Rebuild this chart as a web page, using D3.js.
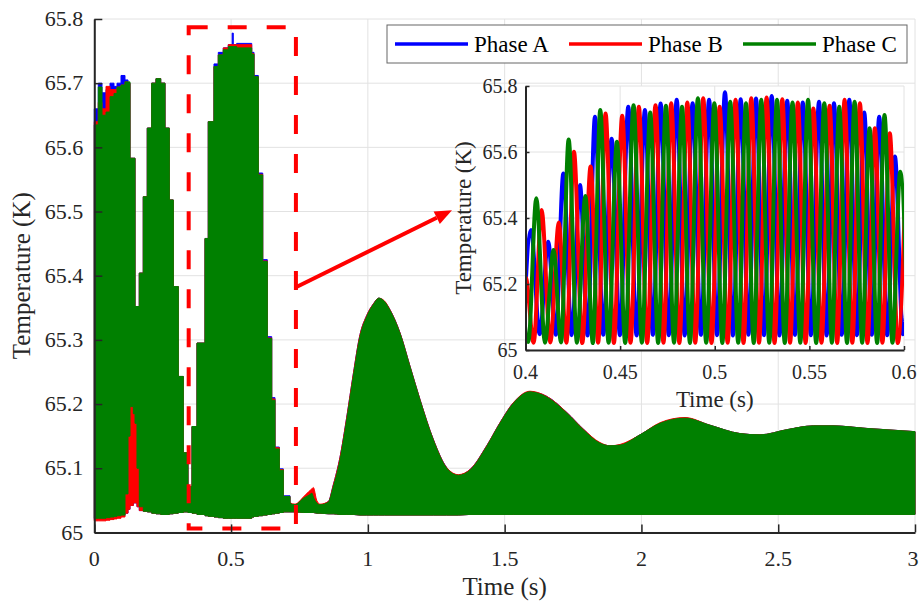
<!DOCTYPE html>
<html>
<head>
<meta charset="utf-8">
<script src="https://cdn.jsdelivr.net/npm/d3@7"></script>
<style>
  body { margin: 0; background: #fff; }
  svg { display: block; }
  text { font-family: "Liberation Serif", "Times New Roman", serif; }
</style>
</head>
<body>
<div id="chart"></div>
<script>
// ---------------- data ----------------
const phaseNames = ['Phase A', 'Phase B', 'Phase C'];
const phaseColors = ['#0000ff', '#ff0000', '#008000'];

const mainXTicks = [0, 0.5, 1, 1.5, 2, 2.5, 3];
const mainYTicks = [65, 65.1, 65.2, 65.3, 65.4, 65.5, 65.6, 65.7, 65.8];
const mainXLabels = ['0', '0.5', '1', '1.5', '2', '2.5', '3'];
const mainYLabels = ['65', '65.1', '65.2', '65.3', '65.4', '65.5', '65.6', '65.7', '65.8'];
const insetXTicks = [0.4, 0.45, 0.5, 0.55, 0.6];
const insetYTicks = [65, 65.2, 65.4, 65.6, 65.8];
const insetXLabels = ['0.4', '0.45', '0.5', '0.55', '0.6'];
const insetYLabels = ['65', '65.2', '65.4', '65.6', '65.8'];

// 0 - 0.72 s : envelope of the oscillation, held in blocks of two cycles
const earlyTime = [0.0000, 0.0146, 0.0281, 0.0428, 0.0574, 0.0720, 0.0830, 0.0976, 0.1122, 0.1232,
  0.1305, 0.1426, 0.1488, 0.1560, 0.1645, 0.1791, 0.1937, 0.2098, 0.2255, 0.2427,
  0.2584, 0.2742, 0.2888, 0.3071, 0.3253, 0.3425, 0.3571, 0.3754, 0.4047, 0.4167,
  0.4375, 0.4533, 0.4715, 0.4898, 0.5040, 0.5080, 0.5205, 0.5754, 0.5838, 0.5995,
  0.6156, 0.6324, 0.6485, 0.6605, 0.6763, 0.6909, 0.7154];
const earlyUpperA = [65.660, 65.700, 65.685, 65.690, 65.700, 65.695, 65.700, 65.712, 65.705, 65.700,
  65.583, 65.583, 65.352, 65.352, 65.404, 65.523, 65.630, 65.700, 65.707, 65.700,
  65.630, 65.518, 65.383, 65.243, 65.124, 65.071, 65.165, 65.295, 65.458, 65.640,
  65.730, 65.748, 65.755, 65.760, 65.778, 65.760, 65.762, 65.748, 65.712, 65.560,
  65.425, 65.305, 65.210, 65.133, 65.099, 65.057, 65.045];
const earlyUpperB = [65.640, 65.670, 65.660, 65.695, 65.690, 65.690, 65.694, 65.697, 65.702, 65.700,
  65.583, 65.583, 65.352, 65.352, 65.404, 65.523, 65.630, 65.700, 65.707, 65.700,
  65.630, 65.518, 65.383, 65.243, 65.124, 65.071, 65.165, 65.295, 65.458, 65.640,
  65.726, 65.744, 65.755, 65.760, 65.760, 65.760, 65.760, 65.746, 65.710, 65.558,
  65.423, 65.303, 65.208, 65.132, 65.098, 65.056, 65.045];
const earlyUpperC = [65.635, 65.694, 65.650, 65.655, 65.679, 65.684, 65.694, 65.697, 65.702, 65.702,
  65.583, 65.583, 65.352, 65.352, 65.404, 65.523, 65.630, 65.700, 65.707, 65.700,
  65.630, 65.518, 65.383, 65.243, 65.124, 65.071, 65.165, 65.295, 65.458, 65.640,
  65.726, 65.744, 65.752, 65.757, 65.757, 65.757, 65.755, 65.745, 65.710, 65.557,
  65.422, 65.302, 65.206, 65.130, 65.097, 65.056, 65.045];
const earlyLowerA = [65.020, 65.020, 65.020, 65.021, 65.022, 65.023, 65.024, 65.026, 65.030, 65.036,
  65.042, 65.046, 65.046, 65.040, 65.034, 65.033, 65.032, 65.030, 65.029, 65.028,
  65.028, 65.029, 65.030, 65.031, 65.032, 65.031, 65.030, 65.028, 65.026, 65.025,
  65.024, 65.023, 65.022, 65.022, 65.022, 65.022, 65.022, 65.024, 65.025, 65.026,
  65.027, 65.028, 65.029, 65.030, 65.031, 65.032, 65.032];
const earlyLowerB = [65.018, 65.018, 65.018, 65.019, 65.020, 65.021, 65.022, 65.024, 65.030, 65.036,
  65.042, 65.046, 65.046, 65.040, 65.034, 65.033, 65.032, 65.030, 65.029, 65.028,
  65.028, 65.029, 65.030, 65.031, 65.032, 65.031, 65.030, 65.028, 65.026, 65.025,
  65.024, 65.023, 65.022, 65.022, 65.022, 65.022, 65.022, 65.024, 65.025, 65.026,
  65.027, 65.028, 65.029, 65.030, 65.031, 65.032, 65.032];
const earlyLowerC = [65.022, 65.022, 65.022, 65.023, 65.024, 65.025, 65.026, 65.027, 65.060, 65.150,
  65.196, 65.185, 65.170, 65.100, 65.040, 65.033, 65.032, 65.030, 65.029, 65.028,
  65.028, 65.029, 65.030, 65.031, 65.032, 65.031, 65.030, 65.028, 65.026, 65.025,
  65.024, 65.023, 65.022, 65.022, 65.022, 65.022, 65.022, 65.024, 65.025, 65.026,
  65.027, 65.028, 65.029, 65.030, 65.031, 65.032, 65.032];

// 0.72 - 3 s : smooth envelope
const lateTime = [0.7154, 0.7336, 0.7640, 0.7850, 0.7958, 0.8006, 0.8130, 0.8250, 0.8554, 0.8736,
  0.8981, 0.9226, 0.9468, 0.9712, 0.9957, 1.0200, 1.0400, 1.0600, 1.0809, 1.1175,
  1.1540, 1.1906, 1.2392, 1.2882, 1.3306, 1.3734, 1.4344, 1.4830, 1.5316, 1.5927,
  1.6537, 1.7268, 1.7875, 1.8485, 1.8851, 1.9217, 1.9948, 2.0679, 2.1593, 2.2507,
  2.3604, 2.4335, 2.5310, 2.6282, 2.7002, 2.8234, 3.0000];
const lateUpperA = [65.045, 65.043, 65.053, 65.058, 65.061, 65.056, 65.046, 65.043, 65.048, 65.074,
  65.117, 65.179, 65.247, 65.308, 65.338, 65.356, 65.365, 65.360, 65.347, 65.311,
  65.259, 65.207, 65.145, 65.101, 65.089, 65.098, 65.135, 65.171, 65.202, 65.219,
  65.212, 65.187, 65.161, 65.139, 65.135, 65.136, 65.152, 65.170, 65.178, 65.167,
  65.154, 65.152, 65.160, 65.166, 65.166, 65.162, 65.157];
const lateUpperB = [65.046, 65.044, 65.055, 65.064, 65.068, 65.070, 65.050, 65.044, 65.048, 65.074,
  65.117, 65.179, 65.247, 65.308, 65.338, 65.356, 65.365, 65.361, 65.347, 65.311,
  65.259, 65.207, 65.145, 65.101, 65.090, 65.098, 65.135, 65.171, 65.202, 65.220,
  65.212, 65.187, 65.161, 65.140, 65.135, 65.137, 65.152, 65.171, 65.179, 65.167,
  65.154, 65.152, 65.160, 65.166, 65.166, 65.162, 65.157];
const lateUpperC = [65.045, 65.043, 65.053, 65.058, 65.061, 65.055, 65.046, 65.043, 65.047, 65.071,
  65.113, 65.175, 65.243, 65.305, 65.336, 65.355, 65.365, 65.360, 65.346, 65.310,
  65.258, 65.206, 65.144, 65.100, 65.089, 65.097, 65.134, 65.170, 65.201, 65.219,
  65.211, 65.186, 65.160, 65.139, 65.135, 65.136, 65.152, 65.170, 65.178, 65.167,
  65.154, 65.152, 65.160, 65.166, 65.166, 65.162, 65.157];
const lateLower = [65.032, 65.032, 65.031, 65.031, 65.031, 65.031, 65.030, 65.030, 65.029, 65.029,
  65.028, 65.028, 65.028, 65.027, 65.027, 65.027, 65.027, 65.027, 65.027, 65.027,
  65.027, 65.027, 65.027, 65.027, 65.027, 65.028, 65.028, 65.028, 65.028, 65.028,
  65.028, 65.028, 65.028, 65.028, 65.028, 65.028, 65.028, 65.028, 65.028, 65.028,
  65.028, 65.028, 65.028, 65.028, 65.028, 65.028, 65.028];

// inset 0.4 - 0.6 s : alternating troughs and peaks of each phase
const insetTimeA = [0.3987, 0.4029, 0.4075, 0.4120, 0.4160, 0.4200, 0.4244, 0.4288, 0.4328, 0.4367,
  0.4411, 0.4455, 0.4499, 0.4543, 0.4587, 0.4631, 0.4673, 0.4714, 0.4757, 0.4799,
  0.4841, 0.4883, 0.4927, 0.4970, 0.5012, 0.5054, 0.5096, 0.5137, 0.5178, 0.5218,
  0.5260, 0.5301, 0.5342, 0.5383, 0.5424, 0.5465, 0.5508, 0.5551, 0.5591, 0.5630,
  0.5671, 0.5711, 0.5751, 0.5790, 0.5830, 0.5869, 0.5911, 0.5952, 0.5994, 0.6035];
const insetTempA = [65.045, 65.364, 65.048, 65.328, 65.046, 65.535, 65.045, 65.500, 65.044, 65.707,
  65.046, 65.640, 65.045, 65.737, 65.044, 65.727, 65.046, 65.747, 65.045, 65.758,
  65.044, 65.748, 65.046, 65.758, 65.045, 65.781, 65.044, 65.760, 65.046, 65.762,
  65.045, 65.770, 65.044, 65.755, 65.046, 65.750, 65.045, 65.752, 65.044, 65.748,
  65.046, 65.758, 65.045, 65.720, 65.046, 65.707, 65.045, 65.586, 65.048, 65.450];
const insetTimeB = [0.3959, 0.4001, 0.4043, 0.4085, 0.4131, 0.4176, 0.4216, 0.4256, 0.4300, 0.4344,
  0.4384, 0.4423, 0.4467, 0.4511, 0.4555, 0.4599, 0.4643, 0.4687, 0.4729, 0.4770,
  0.4813, 0.4855, 0.4897, 0.4939, 0.4983, 0.5026, 0.5068, 0.5110, 0.5152, 0.5193,
  0.5234, 0.5274, 0.5316, 0.5357, 0.5398, 0.5439, 0.5480, 0.5521, 0.5564, 0.5607,
  0.5647, 0.5686, 0.5727, 0.5767, 0.5807, 0.5846, 0.5886, 0.5925, 0.5967, 0.6008];
const insetTempB = [65.024, 65.220, 65.022, 65.424, 65.023, 65.386, 65.022, 65.601, 65.021, 65.556,
  65.022, 65.717, 65.021, 65.710, 65.022, 65.737, 65.021, 65.742, 65.022, 65.748,
  65.021, 65.750, 65.022, 65.763, 65.021, 65.737, 65.022, 65.758, 65.021, 65.763,
  65.022, 65.765, 65.021, 65.760, 65.022, 65.750, 65.021, 65.732, 65.022, 65.740,
  65.021, 65.758, 65.022, 65.748, 65.021, 65.672, 65.022, 65.657, 65.021, 65.500];
const insetTimeC = [0.3973, 0.4015, 0.4057, 0.4103, 0.4148, 0.4188, 0.4228, 0.4272, 0.4316, 0.4356,
  0.4395, 0.4439, 0.4483, 0.4527, 0.4571, 0.4615, 0.4659, 0.4701, 0.4742, 0.4785,
  0.4827, 0.4869, 0.4911, 0.4955, 0.4998, 0.5040, 0.5082, 0.5124, 0.5165, 0.5206,
  0.5246, 0.5288, 0.5329, 0.5370, 0.5411, 0.5452, 0.5493, 0.5536, 0.5579, 0.5619,
  0.5658, 0.5699, 0.5739, 0.5779, 0.5818, 0.5858, 0.5897, 0.5939, 0.5980, 0.6022];
const insetTempC = [65.290, 65.024, 65.460, 65.022, 65.303, 65.023, 65.638, 65.022, 65.467, 65.021,
  65.727, 65.022, 65.631, 65.021, 65.742, 65.022, 65.720, 65.021, 65.740, 65.022,
  65.737, 65.021, 65.763, 65.022, 65.748, 65.021, 65.752, 65.022, 65.748, 65.021,
  65.758, 65.022, 65.758, 65.021, 65.750, 65.022, 65.758, 65.021, 65.748, 65.022,
  65.737, 65.021, 65.752, 65.022, 65.672, 65.021, 65.712, 65.022, 65.540, 65.024];

// zoom box and arrow, in data units of the main axes
const zoomBox = { t0: 0.345, t1: 0.737, v0: 65.006, v1: 65.787 };
const arrowFrom = [0.737, 65.382];
const arrowTo = [1.3075, 65.502];

// ---------------- layout ----------------
const width = 919;
const height = 604;
const mainBox = { left: 94.3, right: 915, top: 19, bottom: 532.4 };
const insetBox = { left: 525.5, right: 904, top: 86, bottom: 350 };
const textColor = '#262626';
const gridColor = '#e2e2e2';

const svg = d3.select('#chart').append('svg')
  .attr('width', width)
  .attr('height', height);

const x = d3.scaleLinear().domain([0, 3]).range([mainBox.left, mainBox.right]);
const y = d3.scaleLinear().domain([65, 65.8]).range([mainBox.bottom, mainBox.top]);
const xi = d3.scaleLinear().domain([0.4, 0.6]).range([insetBox.left, insetBox.right]);
const yi = d3.scaleLinear().domain([65, 65.8]).range([insetBox.bottom, insetBox.top]);

// grid lines for a box
function drawGrid(g, xs, ys, xTicks, yTicks, box) {
  const grid = g.append('g').attr('stroke', gridColor).attr('stroke-width', 1);
  grid.selectAll('line.gx').data(xTicks).enter().append('line')
    .attr('class', 'gx')
    .attr('x1', d => xs(d)).attr('x2', d => xs(d))
    .attr('y1', box.top).attr('y2', box.bottom);
  grid.selectAll('line.gy').data(yTicks).enter().append('line')
    .attr('class', 'gy')
    .attr('x1', box.left).attr('x2', box.right)
    .attr('y1', d => ys(d)).attr('y2', d => ys(d));
}

// axis lines + inward ticks with d3 axes; labels as own text so the serif font sticks
function drawAxes(g, xs, ys, xTicks, yTicks, xLabels, yLabels, box, opt) {
  const yAxis = g.append('g')
    .attr('transform', `translate(${box.left},0)`)
    .call(d3.axisLeft(ys).tickValues(yTicks).tickFormat('')
      .tickSizeInner(-opt.tick).tickSizeOuter(0));
  const xAxis = g.append('g')
    .attr('transform', `translate(0,${box.bottom})`)
    .call(d3.axisBottom(xs).tickValues(xTicks).tickFormat('')
      .tickSizeInner(-opt.tick).tickSizeOuter(0));
  [yAxis, xAxis].forEach(a => {
    a.select('.domain').attr('stroke', textColor).attr('stroke-width', 2);
    a.selectAll('.tick line').attr('stroke', textColor).attr('stroke-width', 1.5);
  });

  g.selectAll(null).data(yTicks).enter().append('text')
    .attr('x', box.left - opt.yPad)
    .attr('y', d => ys(d))
    .attr('dy', '0.33em')
    .attr('text-anchor', 'end')
    .attr('fill', textColor)
    .attr('font-size', opt.size)
    .text((d, i) => yLabels[i]);

  g.selectAll(null).data(xTicks).enter().append('text')
    .attr('x', d => Math.min(xs(d), width - 6))
    .attr('y', box.bottom + opt.xBase)
    .attr('text-anchor', 'middle')
    .attr('fill', textColor)
    .attr('font-size', opt.size)
    .text((d, i) => xLabels[i]);
}

drawGrid(svg, x, y, mainXTicks, mainYTicks, mainBox);

// main data: each phase as the band its oscillation fills
const mainSeries = [
  { color: phaseColors[0], eUp: earlyUpperA, eLo: earlyLowerA, lUp: lateUpperA },
  { color: phaseColors[1], eUp: earlyUpperB, eLo: earlyLowerB, lUp: lateUpperB },
  { color: phaseColors[2], eUp: earlyUpperC, eLo: earlyLowerC, lUp: lateUpperC },
];

const mainData = svg.append('g');
mainSeries.forEach(s => {
  const earlyArea = d3.area()
    .curve(d3.curveStepAfter)
    .x((d, i) => x(earlyTime[i]))
    .y0((d, i) => y(s.eLo[i]))
    .y1((d, i) => y(s.eUp[i]));
  const lateArea = d3.area()
    .curve(d3.curveMonotoneX)
    .x((d, i) => x(lateTime[i]))
    .y0((d, i) => y(lateLower[i]))
    .y1((d, i) => y(s.lUp[i]));

  mainData.append('path')
    .datum(earlyTime)
    .attr('d', earlyArea)
    .attr('fill', s.color)
    .attr('stroke', s.color)
    .attr('stroke-width', 1);
  mainData.append('path')
    .datum(lateTime)
    .attr('d', lateArea)
    .attr('fill', s.color)
    .attr('stroke', s.color)
    .attr('stroke-width', 1);
});

// dashed zoom box
svg.append('rect')
  .attr('x', x(zoomBox.t0))
  .attr('y', y(zoomBox.v1))
  .attr('width', x(zoomBox.t1) - x(zoomBox.t0))
  .attr('height', y(zoomBox.v0) - y(zoomBox.v1))
  .attr('fill', 'none')
  .attr('stroke', '#ff0000')
  .attr('stroke-width', 4)
  .attr('stroke-dasharray', '19 20');

drawAxes(svg, x, y, mainXTicks, mainYTicks, mainXLabels, mainYLabels, mainBox,
  { tick: 8, yPad: 11, xBase: 34, size: 22 });

svg.append('text')
  .attr('x', (mainBox.left + mainBox.right) / 2)
  .attr('y', 595)
  .attr('text-anchor', 'middle')
  .attr('fill', textColor)
  .attr('font-size', 25)
  .text('Time (s)');

svg.append('text')
  .attr('transform', `translate(30,${(mainBox.top + mainBox.bottom) / 2}) rotate(-90)`)
  .attr('text-anchor', 'middle')
  .attr('fill', textColor)
  .attr('font-size', 25)
  .text('Temperature (K)');

// arrow from zoom box to inset
const ax0 = x(arrowFrom[0]);
const ay0 = y(arrowFrom[1]);
const ax1 = x(arrowTo[0]);
const ay1 = y(arrowTo[1]);
const ang = Math.atan2(ay1 - ay0, ax1 - ax0);
const headLen = 17;
const headHalf = 7;
const bx = ax1 - headLen * Math.cos(ang);
const by = ay1 - headLen * Math.sin(ang);
svg.append('line')
  .attr('x1', ax0).attr('y1', ay0)
  .attr('x2', bx).attr('y2', by)
  .attr('stroke', '#ff0000')
  .attr('stroke-width', 4);
svg.append('polygon')
  .attr('points', [
    [ax1, ay1],
    [bx - headHalf * Math.sin(ang), by + headHalf * Math.cos(ang)],
    [bx + headHalf * Math.sin(ang), by - headHalf * Math.cos(ang)],
  ].map(p => p.join(',')).join(' '))
  .attr('fill', '#ff0000');

// ---------------- inset ----------------
const inset = svg.append('g');

inset.append('rect')
  .attr('x', insetBox.left)
  .attr('y', insetBox.top)
  .attr('width', insetBox.right - insetBox.left)
  .attr('height', insetBox.bottom - insetBox.top)
  .attr('fill', '#fff');

drawGrid(inset, xi, yi, insetXTicks, insetYTicks, insetBox);

svg.append('clipPath').attr('id', 'inset-clip')
  .append('rect')
  .attr('x', insetBox.left)
  .attr('y', insetBox.top - 10)
  .attr('width', insetBox.right - insetBox.left)
  .attr('height', insetBox.bottom - insetBox.top + 10);

const insetSeries = [
  { color: phaseColors[0], t: insetTimeA, v: insetTempA },
  { color: phaseColors[1], t: insetTimeB, v: insetTempB },
  { color: phaseColors[2], t: insetTimeC, v: insetTempC },
];

const insetLines = inset.append('g').attr('clip-path', 'url(#inset-clip)');
insetSeries.forEach(s => {
  const line = d3.line()
    .curve(d3.curveMonotoneX)
    .x((d, i) => xi(s.t[i]))
    .y((d, i) => yi(s.v[i]));
  insetLines.append('path')
    .datum(s.t)
    .attr('d', line)
    .attr('fill', 'none')
    .attr('stroke', s.color)
    .attr('stroke-width', 4)
    .attr('stroke-linejoin', 'round');
});

drawAxes(inset, xi, yi, insetXTicks, insetYTicks, insetXLabels, insetYLabels, insetBox,
  { tick: 4, yPad: 8, xBase: 29, size: 20 });

inset.append('text')
  .attr('x', (insetBox.left + insetBox.right) / 2)
  .attr('y', 407)
  .attr('text-anchor', 'middle')
  .attr('fill', textColor)
  .attr('font-size', 23)
  .text('Time (s)');

inset.append('text')
  .attr('transform', `translate(471,${(insetBox.top + insetBox.bottom) / 2}) rotate(-90)`)
  .attr('text-anchor', 'middle')
  .attr('fill', textColor)
  .attr('font-size', 23)
  .text('Temperature (K)');

// ---------------- legend ----------------
const legend = svg.append('g').attr('transform', 'translate(387,25)');
legend.append('rect')
  .attr('width', 520)
  .attr('height', 38)
  .attr('fill', '#fff')
  .attr('stroke', '#666')
  .attr('stroke-width', 1);

const legendItems = legend.selectAll('g.item')
  .data(phaseNames)
  .enter()
  .append('g')
  .attr('class', 'item')
  .attr('transform', (d, i) => `translate(${8 + i * 174},19)`);

legendItems.append('line')
  .attr('x1', 0).attr('x2', 73)
  .attr('y1', 0).attr('y2', 0)
  .attr('stroke', (d, i) => phaseColors[i])
  .attr('stroke-width', 3.5);

legendItems.append('text')
  .attr('x', 79)
  .attr('y', 8)
  .attr('fill', '#000')
  .attr('font-size', 23)
  .text(d => d);
</script>
</body>
</html>
